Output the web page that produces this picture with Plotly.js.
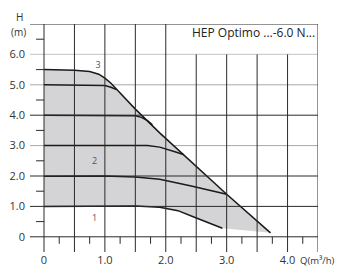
<!DOCTYPE html>
<html><head><meta charset="utf-8">
<script src="https://cdn.plot.ly/plotly-3.0.1.min.js"></script>
<style>html,body{margin:0;padding:0;background:#fff;}#c{width:339px;height:267px;}</style>
</head><body><div id="c"></div>
<script>
// Envelope (max) curve
const maxQ = [0, 0.5, 0.75, 0.9, 1.0, 1.1, 1.2, 1.3, 1.5, 1.9, 2.5, 3.0, 3.72];
const maxH = [5.5, 5.48, 5.44, 5.35, 5.22, 5.05, 4.84, 4.62, 4.2, 3.42, 2.33, 1.40, 0.13];
// Intermediate curves
const c5Q = [0, 0.9, 1.0, 1.1, 1.19];
const c5H = [5.0, 5.0, 4.98, 4.92, 4.84];
const c4Q = [0, 1.4, 1.5, 1.6, 1.7, 1.78];
const c4H = [4.0, 4.0, 3.98, 3.93, 3.82, 3.68];
const c3Q = [0, 1.7, 1.9, 2.0, 2.15, 2.3];
const c3H = [3.0, 3.0, 2.95, 2.9, 2.8, 2.7];
const c2Q = [0, 0.5, 1.0, 1.5, 1.9, 2.4, 3.0];
const c2H = [1.99, 2.0, 2.0, 1.97, 1.89, 1.68, 1.40];
const c1Q = [0, 0.5, 1.0, 1.5, 1.9, 2.2, 2.45, 2.7, 2.93];
const c1H = [1.0, 1.01, 1.02, 1.01, 0.97, 0.86, 0.66, 0.45, 0.28];
// Curve labels
const labelText = ["3", "2", "1"];
const labelQ = [0.89, 0.83, 0.83];
const labelH = [5.63, 2.47, 0.6];
// Tick labels
const xTickVals = [0, 1, 2, 3, 4];
const xTickText = ["0", "1.0", "2.0", "3.0", "4.0"];
const yTickVals = [0, 1, 2, 3, 4, 5, 6];
const yTickText = ["0", "1.0", "2.0", "3.0", "4.0", "5.0", "6.0"];
// Grid
const vGridFull = [0, 0.5, 1, 1.5, 2, 4.5];
const vGridShort = [2.5, 3, 3.5, 4];
const hGridDark = [0, 1, 2, 4, 7];
const hGridMid = [3, 5];
const hGridLight = [6];
const xMinor = [0.25, 0.75, 1.25, 1.75, 2.25, 2.75, 3.25, 3.75, 4.25];
const yMinor = [0.5, 1.5, 2.5, 3.5, 4.5, 5.5, 6.5];

const fillQ = maxQ.concat(c1Q.slice().reverse());
const fillH = maxH.concat(c1H.slice().reverse());

const lineStyle = {color: '#1a1a1a', width: 1.5};
const traces = [
  {x: fillQ, y: fillH, mode: 'lines', fill: 'toself', fillcolor: '#d4d4d6', line: {width: 0}, hoverinfo: 'skip'},
  {x: maxQ, y: maxH, mode: 'lines', line: lineStyle},
  {x: c5Q, y: c5H, mode: 'lines', line: lineStyle},
  {x: c4Q, y: c4H, mode: 'lines', line: lineStyle},
  {x: c3Q, y: c3H, mode: 'lines', line: lineStyle},
  {x: c2Q, y: c2H, mode: 'lines', line: lineStyle},
  {x: c1Q, y: c1H, mode: 'lines', line: lineStyle},
  {x: labelQ, y: labelH, mode: 'text', text: labelText, textfont: {family: 'Open Sans', size: 9, color: '#555'}}
];

const shapes = [];
const dark = '#2a2a2a';
vGridFull.forEach(v => shapes.push({type: 'line', xref: 'x', yref: 'y', x0: v, x1: v, y0: -0.5, y1: 7, line: {color: dark, width: 1}}));
vGridShort.forEach(v => shapes.push({type: 'line', xref: 'x', yref: 'y', x0: v, x1: v, y0: -0.5, y1: 6, line: {color: dark, width: 1}}));
hGridDark.forEach(v => shapes.push({type: 'line', xref: 'paper', yref: 'y', x0: 0, x1: 1, y0: v, y1: v, line: {color: dark, width: 1}}));
hGridMid.forEach(v => shapes.push({type: 'line', xref: 'paper', yref: 'y', x0: 0, x1: 1, y0: v, y1: v, layer: 'below', line: {color: '#a8a8a8', width: 1}}));
hGridLight.forEach(v => shapes.push({type: 'line', xref: 'paper', yref: 'y', x0: 0, x1: 1, y0: v, y1: v, layer: 'below', line: {color: '#cfcfcf', width: 1.2}}));
xMinor.forEach(v => shapes.push({type: 'line', xref: 'x', yref: 'y', x0: v, x1: v, y0: 0, y1: -0.23, line: {color: dark, width: 1}}));
yMinor.forEach(v => shapes.push({type: 'line', xref: 'x', yref: 'y', x0: -0.13, x1: 0, y0: v, y1: v, line: {color: dark, width: 1}}));

const font = {family: 'Open Sans', size: 11, color: '#333'};
const smallFont = {family: 'Open Sans', size: 10, color: '#333'};
const layout = {
  width: 339, height: 267,
  margin: {l: 30, r: 21, t: 24, b: 15, pad: 0},
  paper_bgcolor: '#fff', plot_bgcolor: '#fff',
  showlegend: false,
  font: font,
  xaxis: {range: [-0.23, 4.5], showgrid: false, zeroline: false, showline: false,
    tickmode: 'array', tickvals: xTickVals, ticktext: xTickText, ticks: '', tickfont: font, fixedrange: true},
  yaxis: {range: [-0.5, 7], showgrid: false, zeroline: false, showline: false,
    tickmode: 'array', tickvals: yTickVals, ticktext: yTickText, ticks: '', ticklabelstandoff: 4, tickfont: font, fixedrange: true},
  shapes: shapes,
  annotations: [
    {text: 'HEP Optimo ...-6.0 N...', xref: 'paper', yref: 'y', x: 1, y: 6.72, xanchor: 'right', yanchor: 'middle', xshift: -1, showarrow: false, font: {family: 'Open Sans', size: 12, color: '#222'}},
    {text: 'H', xref: 'paper', yref: 'paper', x: -0.038, y: 1.029, xanchor: 'center', yanchor: 'middle', showarrow: false, font: smallFont},
    {text: '(m)', xref: 'paper', yref: 'paper', x: -0.04, y: 0.967, xanchor: 'center', yanchor: 'middle', showarrow: false, font: smallFont},
    {text: 'Q(m³/h)', xref: 'paper', yref: 'paper', x: 0.934, y: -0.036, xanchor: 'left', yanchor: 'middle', showarrow: false, borderpad: 0, font: {family: 'Open Sans', size: 9.5, color: '#333'}}
  ]
};
Plotly.newPlot('c', traces, layout, {staticPlot: true, displayModeBar: false});
</script></body></html>
